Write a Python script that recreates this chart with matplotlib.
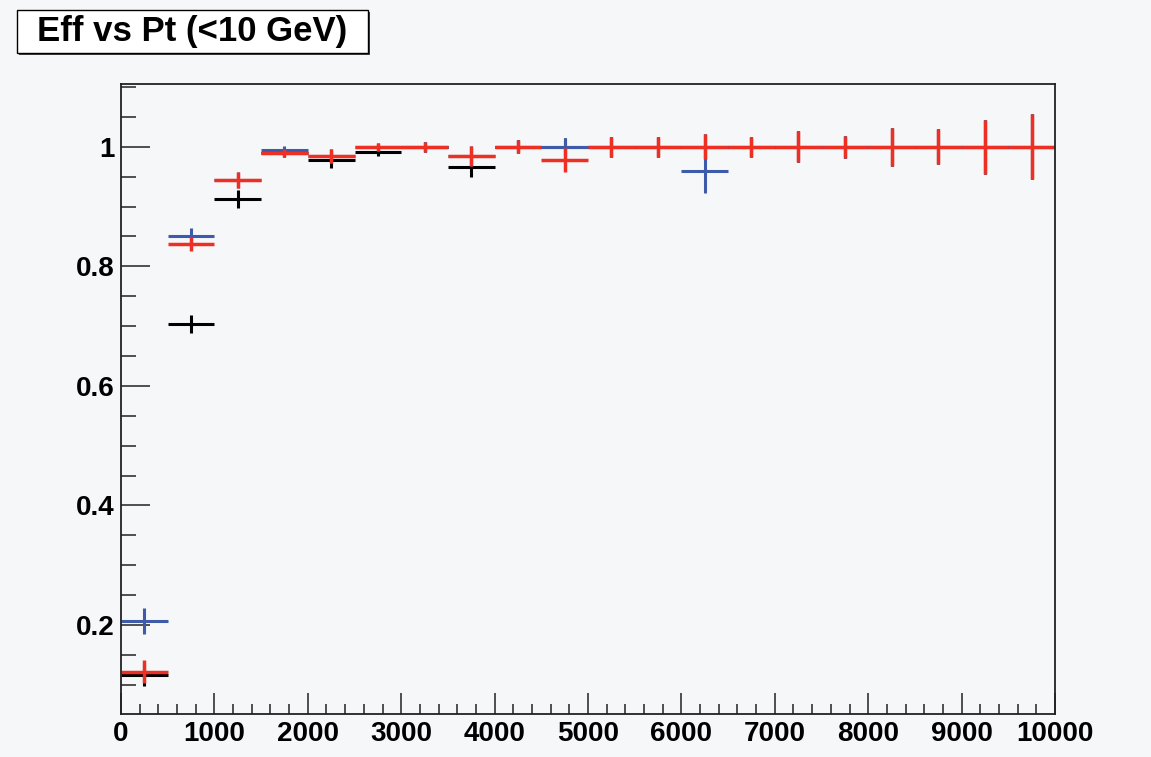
import numpy as np
import matplotlib.pyplot as plt
from matplotlib.patches import Rectangle
from matplotlib.ticker import MultipleLocator

# bins of 500 in Pt, 0..10000
pt_centers = [250, 750, 1250, 1750, 2250, 2750, 3250, 3750, 4250, 4750,
              5250, 5750, 6250, 6750, 7250, 7750, 8250, 8750, 9250, 9750]
pt_halfwidth = 250

black_eff = [0.116, 0.704, 0.913, 0.990, 0.978, 0.991, 1.0, 0.966, 1.0, 1.0,
             1.0, 1.0, 1.0, 1.0, 1.0, 1.0, 1.0, 1.0, 1.0, 1.0]
black_err = [0.018, 0.015, 0.015, 0.007, 0.014, 0.007, 0.008, 0.017, 0.011, 0.014,
             0.017, 0.017, 0.021, 0.017, 0.026, 0.018, 0.032, 0.029, 0.045, 0.054]

blue_eff = [0.207, 0.850, 0.944, 0.995, 0.985, 1.0, 1.0, 0.984, 1.0, 1.0,
            1.0, 1.0, 0.960, 1.0, 1.0, 1.0, 1.0, 1.0, 1.0, 1.0]
blue_err = [0.022, 0.014, 0.013, 0.006, 0.012, 0.007, 0.008, 0.017, 0.011, 0.014,
            0.017, 0.017, 0.038, 0.017, 0.026, 0.018, 0.032, 0.029, 0.045, 0.054]

red_eff = [0.122, 0.837, 0.944, 0.990, 0.985, 1.0, 1.0, 0.984, 1.0, 0.978,
           1.0, 1.0, 1.0, 1.0, 1.0, 1.0, 1.0, 1.0, 1.0, 1.0]
red_err = [0.019, 0.012, 0.013, 0.007, 0.012, 0.007, 0.008, 0.017, 0.011, 0.020,
           0.017, 0.017, 0.021, 0.017, 0.026, 0.018, 0.032, 0.029, 0.045, 0.054]

bg = '#f6f7f9'
plt.rcParams['font.family'] = ['Liberation Sans', 'DejaVu Sans']
plt.rcParams['font.weight'] = 'bold'

fig = plt.figure(figsize=(11.51, 7.57), dpi=100, facecolor=bg)
ax = fig.add_axes([121/1151, 1-714/757, (1055-121)/1151, (714-84)/757], facecolor=bg)

# black first, red on top (as in the original drawing order)
for eff, err, col, lw in [(black_eff, black_err, 'black', 2.2),
                          (blue_eff, blue_err, '#3d5ba9', 2.2),
                          (red_eff, red_err, '#ee3024', 2.5)]:
    ax.errorbar(pt_centers, eff, xerr=pt_halfwidth, yerr=err, fmt='none',
                ecolor=col, elinewidth=lw, capsize=0)

ax.set_xlim(0, 10000)
ax.set_ylim(0.051, 1.105)
ax.xaxis.set_major_locator(MultipleLocator(1000))
ax.xaxis.set_minor_locator(MultipleLocator(200))
ax.yaxis.set_major_locator(MultipleLocator(0.2))
ax.yaxis.set_minor_locator(MultipleLocator(0.05))
ax.yaxis.set_major_formatter(plt.FuncFormatter(lambda v, p: '%g' % round(v, 2)))

ax.tick_params(axis='both', which='both', direction='in', color='#333333')
ax.tick_params(axis='y', which='major', length=21, width=1.2, pad=4.5, labelsize=20)
ax.tick_params(axis='y', which='minor', length=11, width=1.2)
ax.tick_params(axis='x', which='major', length=15, width=1.2, pad=5, labelsize=20)
ax.tick_params(axis='x', which='minor', length=7, width=1.2)
for s in ax.spines.values():
    s.set_linewidth(1.3)
    s.set_color('#222222')

# title box with shadow
fig.patches.append(Rectangle((19/1151, 1-55/757), 351/1151, 43/757,
                             transform=fig.transFigure, facecolor='#444444',
                             edgecolor='none', zorder=1))
fig.patches.append(Rectangle((17/1151, 1-53/757), 351/1151, 43/757,
                             transform=fig.transFigure, facecolor='white',
                             edgecolor='black', linewidth=1.0, zorder=2))
fig.text(192/1151, 1-31.5/757, 'Eff vs Pt (<10 GeV)', fontsize=25, fontweight='bold',
         ha='center', va='center', zorder=3)

fig.savefig('out.png', dpi=100, facecolor=bg)
